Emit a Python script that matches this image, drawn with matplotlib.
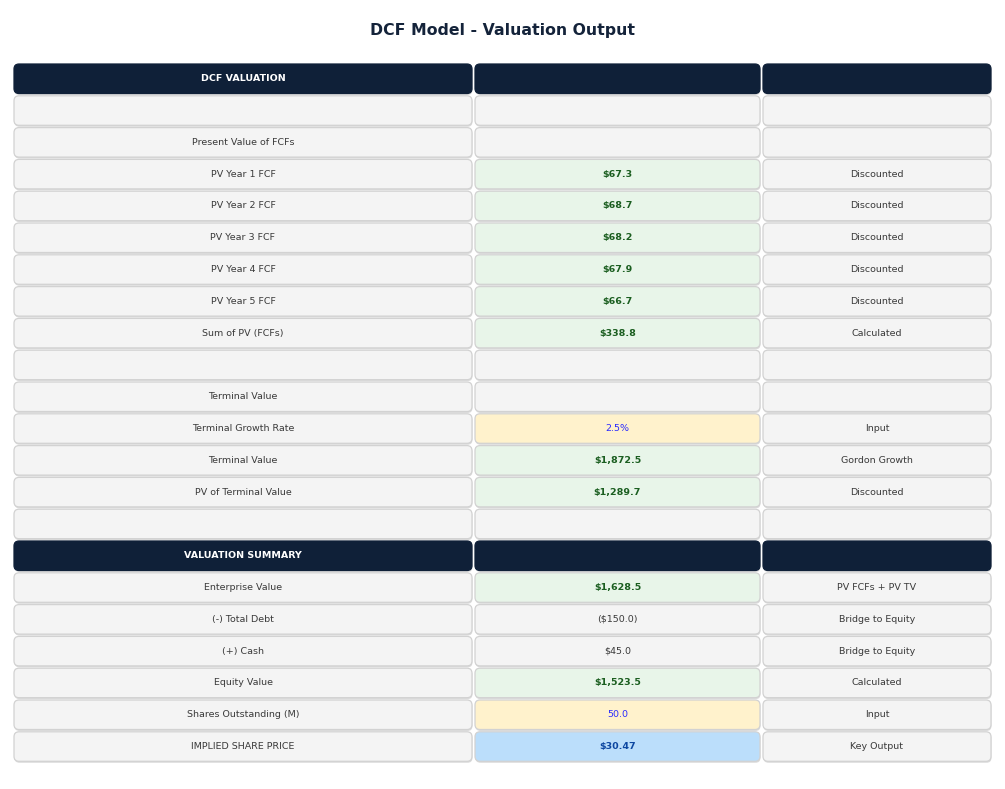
import matplotlib.pyplot as plt
from matplotlib.patches import FancyBboxPatch

# table content
labels = ['DCF VALUATION', '', 'Present Value of FCFs', 'PV Year 1 FCF', 'PV Year 2 FCF',
          'PV Year 3 FCF', 'PV Year 4 FCF', 'PV Year 5 FCF', 'Sum of PV (FCFs)', '',
          'Terminal Value', 'Terminal Growth Rate', 'Terminal Value', 'PV of Terminal Value', '',
          'VALUATION SUMMARY', 'Enterprise Value', '(-) Total Debt', '(+) Cash', 'Equity Value',
          'Shares Outstanding (M)', 'IMPLIED SHARE PRICE']
values = ['', '', '', '$67.3', '$68.7', '$68.2', '$67.9', '$66.7', '$338.8', '',
          '', '2.5%', '$1,872.5', '$1,289.7', '',
          '', '$1,628.5', '($150.0)', '$45.0', '$1,523.5', '50.0', '$30.47']
notes = ['', '', '', 'Discounted', 'Discounted', 'Discounted', 'Discounted', 'Discounted',
         'Calculated', '', '', 'Input', 'Gordon Growth', 'Discounted', '',
         '', 'PV FCFs + PV TV', 'Bridge to Equity', 'Bridge to Equity', 'Calculated',
         'Input', 'Key Output']
kinds = ['header', 'blank', 'plain', 'calc', 'calc', 'calc', 'calc', 'calc', 'calc', 'blank',
         'plain', 'input', 'calc', 'calc', 'blank',
         'header', 'calc', 'plain', 'plain', 'calc', 'input', 'key']

styles = {
    'header': dict(fc='#0f2038', tc='white', bold=True),
    'blank': dict(fc='#f4f4f4', tc='#3a3a3a', bold=False),
    'plain': dict(fc='#f4f4f4', tc='#3a3a3a', bold=False),
    'calc': dict(fc='#e8f5e9', tc='#1b5e20', bold=True),
    'input': dict(fc='#fff2cc', tc='#2b2bff', bold=False),
    'key': dict(fc='#bbdefb', tc='#0d47a1', bold=True),
}
gray = styles['plain']

fig = plt.figure(figsize=(10.05, 7.89), dpi=100)
ax = fig.add_axes([0, 0, 1, 1])
ax.set_xlim(0, 1005)
ax.set_ylim(789, 0)
ax.axis('off')

col_x = [14, 475, 763]
col_w = [458, 285, 228]
top = 64
pitch = 31.8
cell_h = 29.5


def cell(x, y, w, fc, txt, tc, bold, header):
    ec = fc if header else '#d2d2d2'
    # soft shadow
    ax.add_patch(FancyBboxPatch((x + 0.5, y + 1.5), w, cell_h, boxstyle='round,pad=0,rounding_size=5',
                                fc='#dcdcdc', ec='none', zorder=1))
    ax.add_patch(FancyBboxPatch((x, y), w, cell_h, boxstyle='round,pad=0,rounding_size=5',
                                fc=fc, ec=ec, lw=0.9, zorder=2))
    if txt:
        ax.text(x + w / 2, y + cell_h / 2, txt, ha='center', va='center', fontsize=6.8,
                color=tc, fontweight='bold' if bold else 'normal', zorder=3)


for i, (lab, val, note, kind) in enumerate(zip(labels, values, notes, kinds)):
    y = top + i * pitch
    st = styles[kind]
    header = kind == 'header'
    first = st if header else gray
    cell(col_x[0], y, col_w[0], first['fc'], lab, first['tc'], header, header)
    mid = st if val or header else gray
    cell(col_x[1], y, col_w[1], mid['fc'], val, mid['tc'], mid['bold'], header)
    last = st if header else gray
    cell(col_x[2], y, col_w[2], last['fc'], note, last['tc'], False, header)

ax.text(502, 30, 'DCF Model - Valuation Output', ha='center', va='center', fontsize=11.3,
        fontweight='bold', color='#14233a')

fig.savefig('out.png', dpi=100)
